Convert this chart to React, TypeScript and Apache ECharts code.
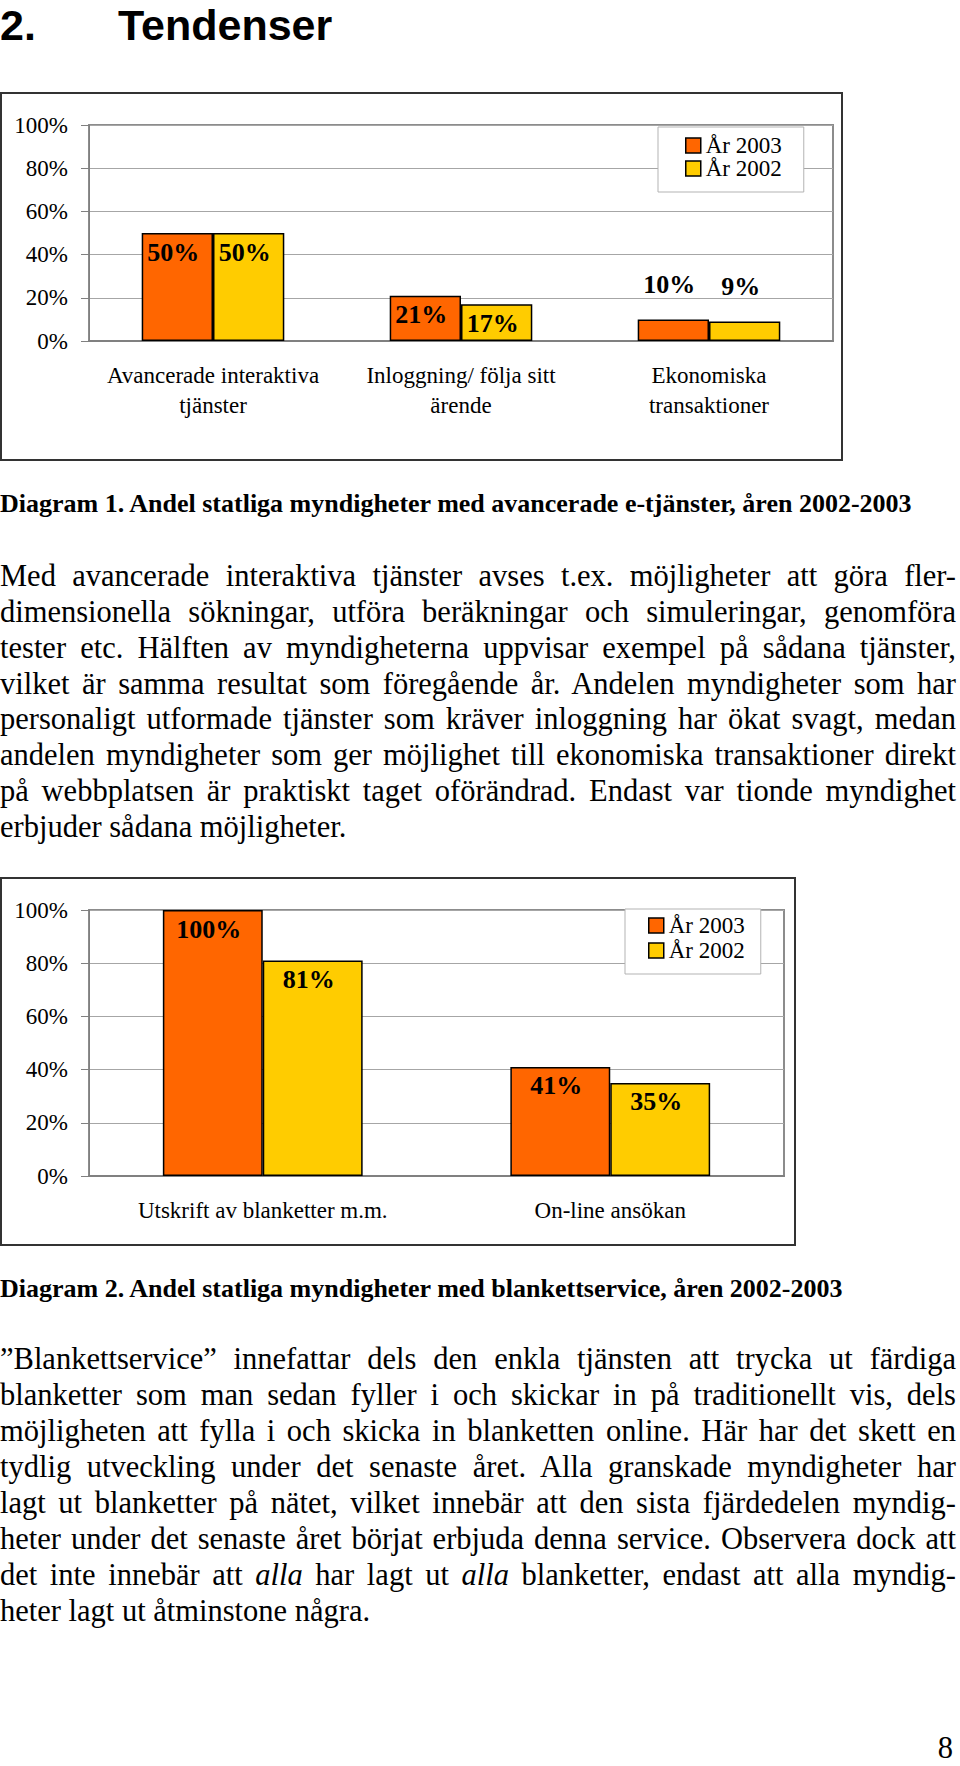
import React, { useEffect, useRef } from "react";
import * as echarts from "echarts";

// ---------- data ----------
const SERIES_NAMES = ["År 2003", "År 2002"];

const chart1Categories = [
  "Avancerade interaktiva\ntjänster",
  "Inloggning/ följa sitt\närende",
  "Ekonomiska\ntransaktioner",
];
const chart1Values2003 = [50, 21, 10];
const chart1Values2002 = [50, 17, 9];

const chart2Categories = ["Utskrift av blanketter m.m.", "On-line ansökan"];
const chart2Values2003 = [100, 41];
const chart2Values2002 = [81, 35];

const Y_MIN = 0;
const Y_MAX = 100;
const Y_STEP = 20;

const headingNumber = "2.";
const headingTitle = "Tendenser";
const caption1 =
  "Diagram 1. Andel statliga myndigheter med avancerade e-tjänster, åren 2002-2003";
const caption2 =
  "Diagram 2. Andel statliga myndigheter med blankettservice, åren 2002-2003";

const paragraph1 = [
  "Med avancerade interaktiva tjänster avses t.ex. möjligheter att göra fler-",
  "dimensionella sökningar, utföra beräkningar och simuleringar, genomföra",
  "tester etc. Hälften av myndigheterna uppvisar exempel på sådana tjänster,",
  "vilket är samma resultat som föregående år. Andelen myndigheter som har",
  "personaligt utformade tjänster som kräver inloggning har ökat svagt, medan",
  "andelen myndigheter som ger möjlighet till ekonomiska transaktioner direkt",
  "på webbplatsen är praktiskt taget oförändrad. Endast var tionde myndighet",
  "erbjuder sådana möjligheter.",
];

const paragraph2 = [
  "\u201DBlankettservice\u201D innefattar dels den enkla tjänsten att trycka ut färdiga",
  "blanketter som man sedan fyller i och skickar in på traditionellt vis, dels",
  "möjligheten att fylla i och skicka in blanketten online. Här har det skett en",
  "tydlig utveckling under det senaste året. Alla granskade myndigheter har",
  "lagt ut blanketter på nätet, vilket innebär att den sista fjärdedelen myndig-",
  "heter under det senaste året börjat erbjuda denna service. Observera dock att",
  "det inte innebär att *alla* har lagt ut *alla* blanketter, endast att alla myndig-",
  "heter lagt ut åtminstone några.",
];

const pageNumber = "8";

// ---------- styles ----------
const SERIF = '"Liberation Serif", "Times New Roman", serif';
const SANS = '"Liberation Sans", Arial, sans-serif';
const ORANGE = "#FF6600";
const YELLOW = "#FFCC00";

type ChartCfg = {
  categories: string[];
  v2003: number[];
  v2002: number[];
  grid: { left: number; top: number; width: number; height: number };
  frame: { width: number; height: number };
  legend: { left: number; top: number; lineHeight: number; padding: number[] };
};

function buildOption(cfg: ChartCfg) {
  const mkData = (vals: number[]) =>
    vals.map((v) =>
      v < 15 ? { value: v, label: { position: "top", distance: 22 } } : v
    );
  const labelStyle = {
    show: true,
    position: "insideTop",
    distance: 6,
    offset: [-4, 0],
    formatter: "{c}%",
    fontFamily: SERIF,
    fontWeight: "bold",
    fontSize: 26,
    color: "#000",
  };
  return {
    animation: false,
    grid: {
      ...cfg.grid,
      show: true,
      borderColor: "#8c8c8c",
      borderWidth: 2,
      backgroundColor: "transparent",
    },
    graphic: [
      {
        type: "rect",
        silent: true,
        z: -10,
        shape: { x: 1, y: 1, width: cfg.frame.width, height: cfg.frame.height },
        style: { fill: "none", stroke: "#333", lineWidth: 2 },
      },
    ],
    legend: {
      orient: "vertical",
      left: cfg.legend.left,
      top: cfg.legend.top,
      icon: "rect",
      itemWidth: 15,
      itemHeight: 15,
      itemGap: 0,
      padding: cfg.legend.padding,
      backgroundColor: "#fff",
      borderColor: "#b3b3b3",
      borderWidth: 1,
      selectedMode: false,
      itemStyle: { borderColor: "#000", borderWidth: 1.5 },
      textStyle: {
        fontFamily: SERIF,
        fontSize: 23,
        color: "#000",
        lineHeight: cfg.legend.lineHeight,
      },
      data: SERIES_NAMES,
    },
    xAxis: {
      type: "category",
      data: cfg.categories,
      axisLine: { lineStyle: { color: "#808080", width: 2 } },
      axisTick: { length: 7, lineStyle: { color: "#808080", width: 1 } },
      axisLabel: {
        interval: 0,
        fontFamily: SERIF,
        fontSize: 23,
        color: "#000",
        lineHeight: 30,
        margin: 19,
      },
    },
    yAxis: {
      type: "value",
      min: Y_MIN,
      max: Y_MAX,
      interval: Y_STEP,
      axisLine: { show: true, lineStyle: { color: "#808080", width: 1 } },
      axisTick: { show: true, length: 8, lineStyle: { color: "#808080", width: 1 } },
      splitLine: { lineStyle: { color: "#a6a6a6", width: 1 } },
      axisLabel: {
        formatter: "{value}%",
        fontFamily: SERIF,
        fontSize: 23,
        color: "#000",
        margin: 21,
        padding: [0, 0, 6, 0],
      },
    },
    series: [
      {
        name: SERIES_NAMES[0],
        type: "bar",
        data: mkData(cfg.v2003),
        barGap: "0%",
        barCategoryGap: "42.5%",
        itemStyle: { color: ORANGE, borderColor: "#000", borderWidth: 1.5 },
        label: labelStyle,
      },
      {
        name: SERIES_NAMES[1],
        type: "bar",
        data: mkData(cfg.v2002),
        barGap: "0%",
        barCategoryGap: "42.5%",
        itemStyle: { color: YELLOW, borderColor: "#000", borderWidth: 1.5 },
        label: labelStyle,
      },
    ],
  };
}

function Chart(props: { cfg: ChartCfg; style: React.CSSProperties }) {
  const ref = useRef<HTMLDivElement>(null);
  useEffect(() => {
    if (!ref.current) return;
    const chart = echarts.init(ref.current, undefined, { renderer: "svg" });
    chart.setOption(buildOption(props.cfg) as any);
    return () => chart.dispose();
  }, []);
  return <div ref={ref} style={{ position: "absolute", ...props.style }} />;
}

function renderRich(s: string) {
  const parts = s.split("*");
  return parts.map((p, i) => (i % 2 === 1 ? <i key={i}>{p}</i> : <span key={i}>{p}</span>));
}

const BODY_SIZE = 30.5;
const BODY_LH = 35;

function Paragraph(props: { lines: string[]; firstBaseline: number; step: number }) {
  const { lines, firstBaseline, step } = props;
  const baseOffset = BODY_LH / 2 + 0.3375 * BODY_SIZE;
  return (
    <>
      {lines.map((ln, i) => {
        const last = i === lines.length - 1;
        return (
          <div
            key={i}
            style={{
              position: "absolute",
              left: 0,
              width: 956,
              top: firstBaseline + i * step - baseOffset,
              fontFamily: SERIF,
              fontSize: BODY_SIZE,
              lineHeight: BODY_LH + "px",
              textAlign: last ? "left" : "justify",
              textAlignLast: last ? "left" : "justify",
              color: "#000",
            } as React.CSSProperties}
          >
            {renderRich(ln)}
          </div>
        );
      })}
    </>
  );
}

function Caption(props: { text: string; baseline: number }) {
  const size = 26;
  const lh = 30;
  return (
    <div
      style={{
        position: "absolute",
        left: 0,
        top: props.baseline - (lh / 2 + 0.3375 * size),
        fontFamily: SERIF,
        fontWeight: "bold",
        fontSize: size,
        lineHeight: lh + "px",
        whiteSpace: "nowrap",
        color: "#000",
      }}
    >
      {props.text}
    </div>
  );
}

const chart1Cfg: ChartCfg = {
  categories: chart1Categories,
  v2003: chart1Values2003,
  v2002: chart1Values2002,
  grid: { left: 89, top: 33, width: 744, height: 216 },
  frame: { width: 841, height: 367 },
  legend: { left: 658, top: 35, lineHeight: 20, padding: [7, 22, 12, 27] },
};

const chart2Cfg: ChartCfg = {
  categories: chart2Categories,
  v2003: chart2Values2003,
  v2002: chart2Values2002,
  grid: { left: 89, top: 33, width: 695, height: 266 },
  frame: { width: 794, height: 367 },
  legend: { left: 625, top: 32, lineHeight: 25, padding: [4, 16, 11, 23] },
};

export default function App() {
  const headSize = 43;
  const headLH = 46;
  const headBaseline = 39.5;
  const headStyle: React.CSSProperties = {
    position: "absolute",
    top: headBaseline - (headLH / 2 + 0.3465 * headSize),
    fontFamily: SANS,
    fontWeight: "bold",
    fontSize: headSize,
    lineHeight: headLH + "px",
    whiteSpace: "nowrap",
    color: "#000",
  };
  const numLH = 26;
  const numBaseline = 1758;
  return (
    <div
      style={{
        position: "absolute",
        left: 0,
        top: 0,
        width: 960,
        height: 1766,
        background: "#fff",
        overflow: "hidden",
      }}
    >
      <div style={{ ...headStyle, left: 0 }}>{headingNumber}</div>
      <div style={{ ...headStyle, left: 118 }}>{headingTitle}</div>

      <Chart cfg={chart1Cfg} style={{ left: 0, top: 92, width: 845, height: 372 }} />
      <Caption text={caption1} baseline={513} />
      <Paragraph lines={paragraph1} firstBaseline={587} step={35.8} />

      <Chart cfg={chart2Cfg} style={{ left: 0, top: 877, width: 800, height: 372 }} />
      <Caption text={caption2} baseline={1298} />
      <Paragraph lines={paragraph2} firstBaseline={1370} step={35.9} />

      <div
        style={{
          position: "absolute",
          right: 7,
          top: numBaseline - (numLH / 2 + 0.3375 * BODY_SIZE),
          fontFamily: SERIF,
          fontSize: BODY_SIZE,
          lineHeight: numLH + "px",
        }}
      >
        {pageNumber}
      </div>
    </div>
  );
}
